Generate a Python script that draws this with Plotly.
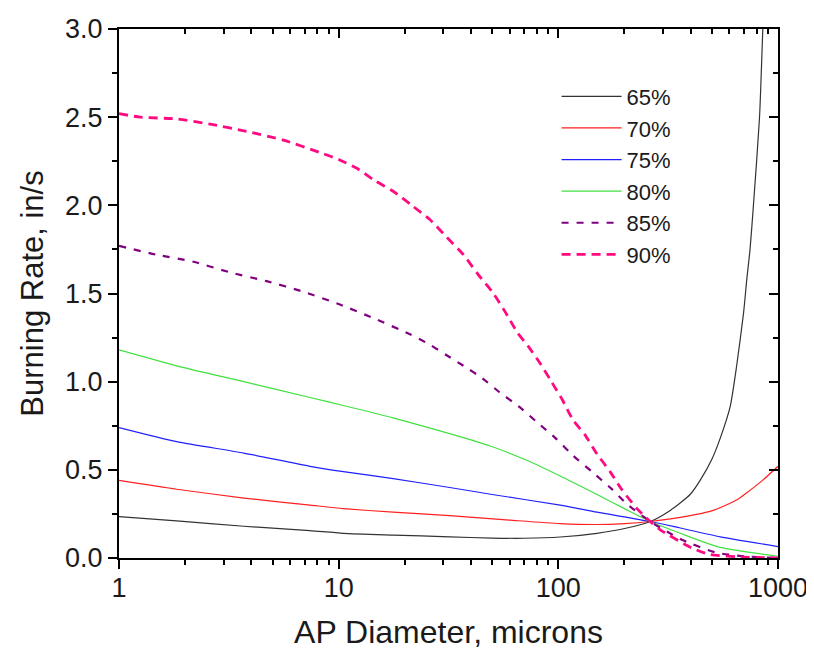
import plotly.graph_objects as go

# ---- data ----
labels = ["65%", "70%", "75%", "80%", "85%", "90%"]

x65 = [1, 1.83, 3.7, 7.4, 10.5, 17.7, 32, 50, 70, 102, 150, 205, 262, 323, 398, 442, 500, 546, 606, 650, 697, 721, 746, 773, 824, 853, 880]
y65 = [0.235, 0.21, 0.18, 0.155, 0.14, 0.13, 0.12, 0.113, 0.112, 0.119, 0.14, 0.17, 0.207, 0.27, 0.36, 0.44, 0.56, 0.68, 0.86, 1.1, 1.39, 1.58, 1.75, 2.0, 2.5, 3.0, 3.4]

x70 = [1, 1.83, 3.7, 7.4, 10.5, 17.7, 32, 60, 102, 150, 200, 262, 359, 507, 650, 721, 850, 1000]
y70 = [0.44, 0.39, 0.34, 0.30, 0.28, 0.26, 0.24, 0.215, 0.195, 0.19, 0.195, 0.207, 0.23, 0.27, 0.33, 0.37, 0.44, 0.52]

x75 = [1, 1.83, 3.7, 7.4, 10.5, 17.7, 32, 50, 102, 150, 262, 359, 546, 1000]
y75 = [0.74, 0.66, 0.595, 0.52, 0.49, 0.45, 0.40, 0.36, 0.30, 0.26, 0.207, 0.17, 0.12, 0.065]

x80 = [1, 1.83, 3.7, 7.4, 10.5, 17.7, 32, 49, 70, 102, 150, 200, 262, 359, 546, 1000]
y80 = [1.18, 1.09, 1.0, 0.91, 0.865, 0.795, 0.705, 0.635, 0.56, 0.465, 0.36, 0.28, 0.207, 0.14, 0.06, 0.01]

x85 = [1, 1.48, 2.18, 3.2, 4.7, 6.9, 10, 14.4, 21, 26, 31, 37, 45, 54, 66, 80, 97, 117, 142, 172, 208, 262, 312, 370, 525, 700, 1000]
y85 = [1.77, 1.72, 1.68, 1.62, 1.57, 1.51, 1.44, 1.36, 1.27, 1.21, 1.15, 1.09, 1.02, 0.94, 0.86, 0.77, 0.68, 0.58, 0.49, 0.40, 0.30, 0.207, 0.15, 0.10, 0.03, 0.01, 0.0]

x90 = [1, 1.25, 1.83, 2.6, 3.8, 5.6, 8.2, 10, 12.1, 14.6, 17.7, 21.5, 26, 31, 37, 43, 50, 57, 65, 73, 83, 92, 104, 117, 132, 150, 172, 194, 228, 262, 291, 405, 491, 700, 1000]
y90 = [2.52, 2.50, 2.49, 2.46, 2.42, 2.37, 2.30, 2.26, 2.21, 2.14, 2.08, 2.0, 1.92, 1.82, 1.72, 1.61, 1.51, 1.40, 1.28, 1.20, 1.10, 1.01, 0.90, 0.78, 0.70, 0.59, 0.49, 0.39, 0.28, 0.207, 0.16, 0.057, 0.02, 0.005, 0.0]

x_tickvals = [1, 10, 100, 1000]
x_ticktext = ["1", "10", "100", "1000"]
x_minor = [m * d for d in (1, 10, 100) for m in range(2, 10)]

series = [
    (x65, y65, "#333333", 1.2, "solid"),
    (x70, y70, "#ff2020", 1.2, "solid"),
    (x75, y75, "#2020ff", 1.2, "solid"),
    (x80, y80, "#40e040", 1.2, "solid"),
    (x85, y85, "#800080", 2.2, "7px,8px"),
    (x90, y90, "#ff0a80", 2.8, "9px,6px"),
]

fig = go.Figure()
for (xs, ys, col, w, dash), name in zip(series, labels):
    fig.add_trace(go.Scatter(x=xs, y=ys, mode="lines", name=name,
                             line=dict(color=col, width=w, dash=dash,
                                       shape="spline", smoothing=0.6)))

# carrier trace so the mirrored top/right axes get drawn
fig.add_trace(go.Scatter(x=x65[:1], y=y65[:1], mode="lines", xaxis="x2", yaxis="y2",
                         showlegend=False, hoverinfo="skip",
                         line=dict(color="rgba(0,0,0,0)")))

font = "Liberation Sans, Arial, sans-serif"
tick_common = dict(ticklen=9, tickwidth=2, tickcolor="black", showline=True,
                   linewidth=2, linecolor="black", showgrid=False, zeroline=False,
                   automargin=False)
# page body has an 8px margin, so the figure is sized to 806x648
fig.update_layout(
    width=806, height=648,
    margin=dict(l=111, r=36, t=21, b=98),
    paper_bgcolor="white", plot_bgcolor="white",
    font=dict(family=font, color="#1a1a1a"),
    showlegend=True,
    legend=dict(x=0.664, y=0.912, xanchor="left", yanchor="top", itemwidth=60,
                bgcolor="rgba(0,0,0,0)", font=dict(size=22, family=font)),
    xaxis=dict(type="log", range=[0, 3], tickmode="array",
               tickvals=x_tickvals, ticktext=x_ticktext, ticks="outside",
               minor=dict(tickmode="array", tickvals=x_minor, ticks="outside",
                          ticklen=5, tickwidth=2, tickcolor="black", showgrid=False),
               tickfont=dict(size=27), ticklabelstandoff=-4,
               title=dict(text="AP Diameter, microns", font=dict(size=32), standoff=18),
               **tick_common),
    yaxis=dict(range=[0, 3], dtick=0.5, tick0=0, tickformat=".1f", ticks="outside",
               minor=dict(dtick=0.25, ticks="outside", ticklen=5, tickwidth=2,
                          tickcolor="black", showgrid=False),
               tickfont=dict(size=27),
               title=dict(text="Burning Rate, in/s", font=dict(size=31), standoff=12),
               **tick_common),
    xaxis2=dict(type="log", range=[0, 3], overlaying="x", side="top", anchor="y",
                tickmode="array", tickvals=x_tickvals, showticklabels=False, ticks="inside",
                minor=dict(tickmode="array", tickvals=x_minor, ticks="inside",
                           ticklen=5, tickwidth=2, tickcolor="black", showgrid=False),
                **tick_common),
    yaxis2=dict(range=[0, 3], overlaying="y", side="right", anchor="x",
                dtick=0.5, tick0=0, showticklabels=False, ticks="inside",
                minor=dict(dtick=0.25, ticks="inside", ticklen=5, tickwidth=2,
                           tickcolor="black", showgrid=False),
                **tick_common),
)

fig.write_html("out.html")
